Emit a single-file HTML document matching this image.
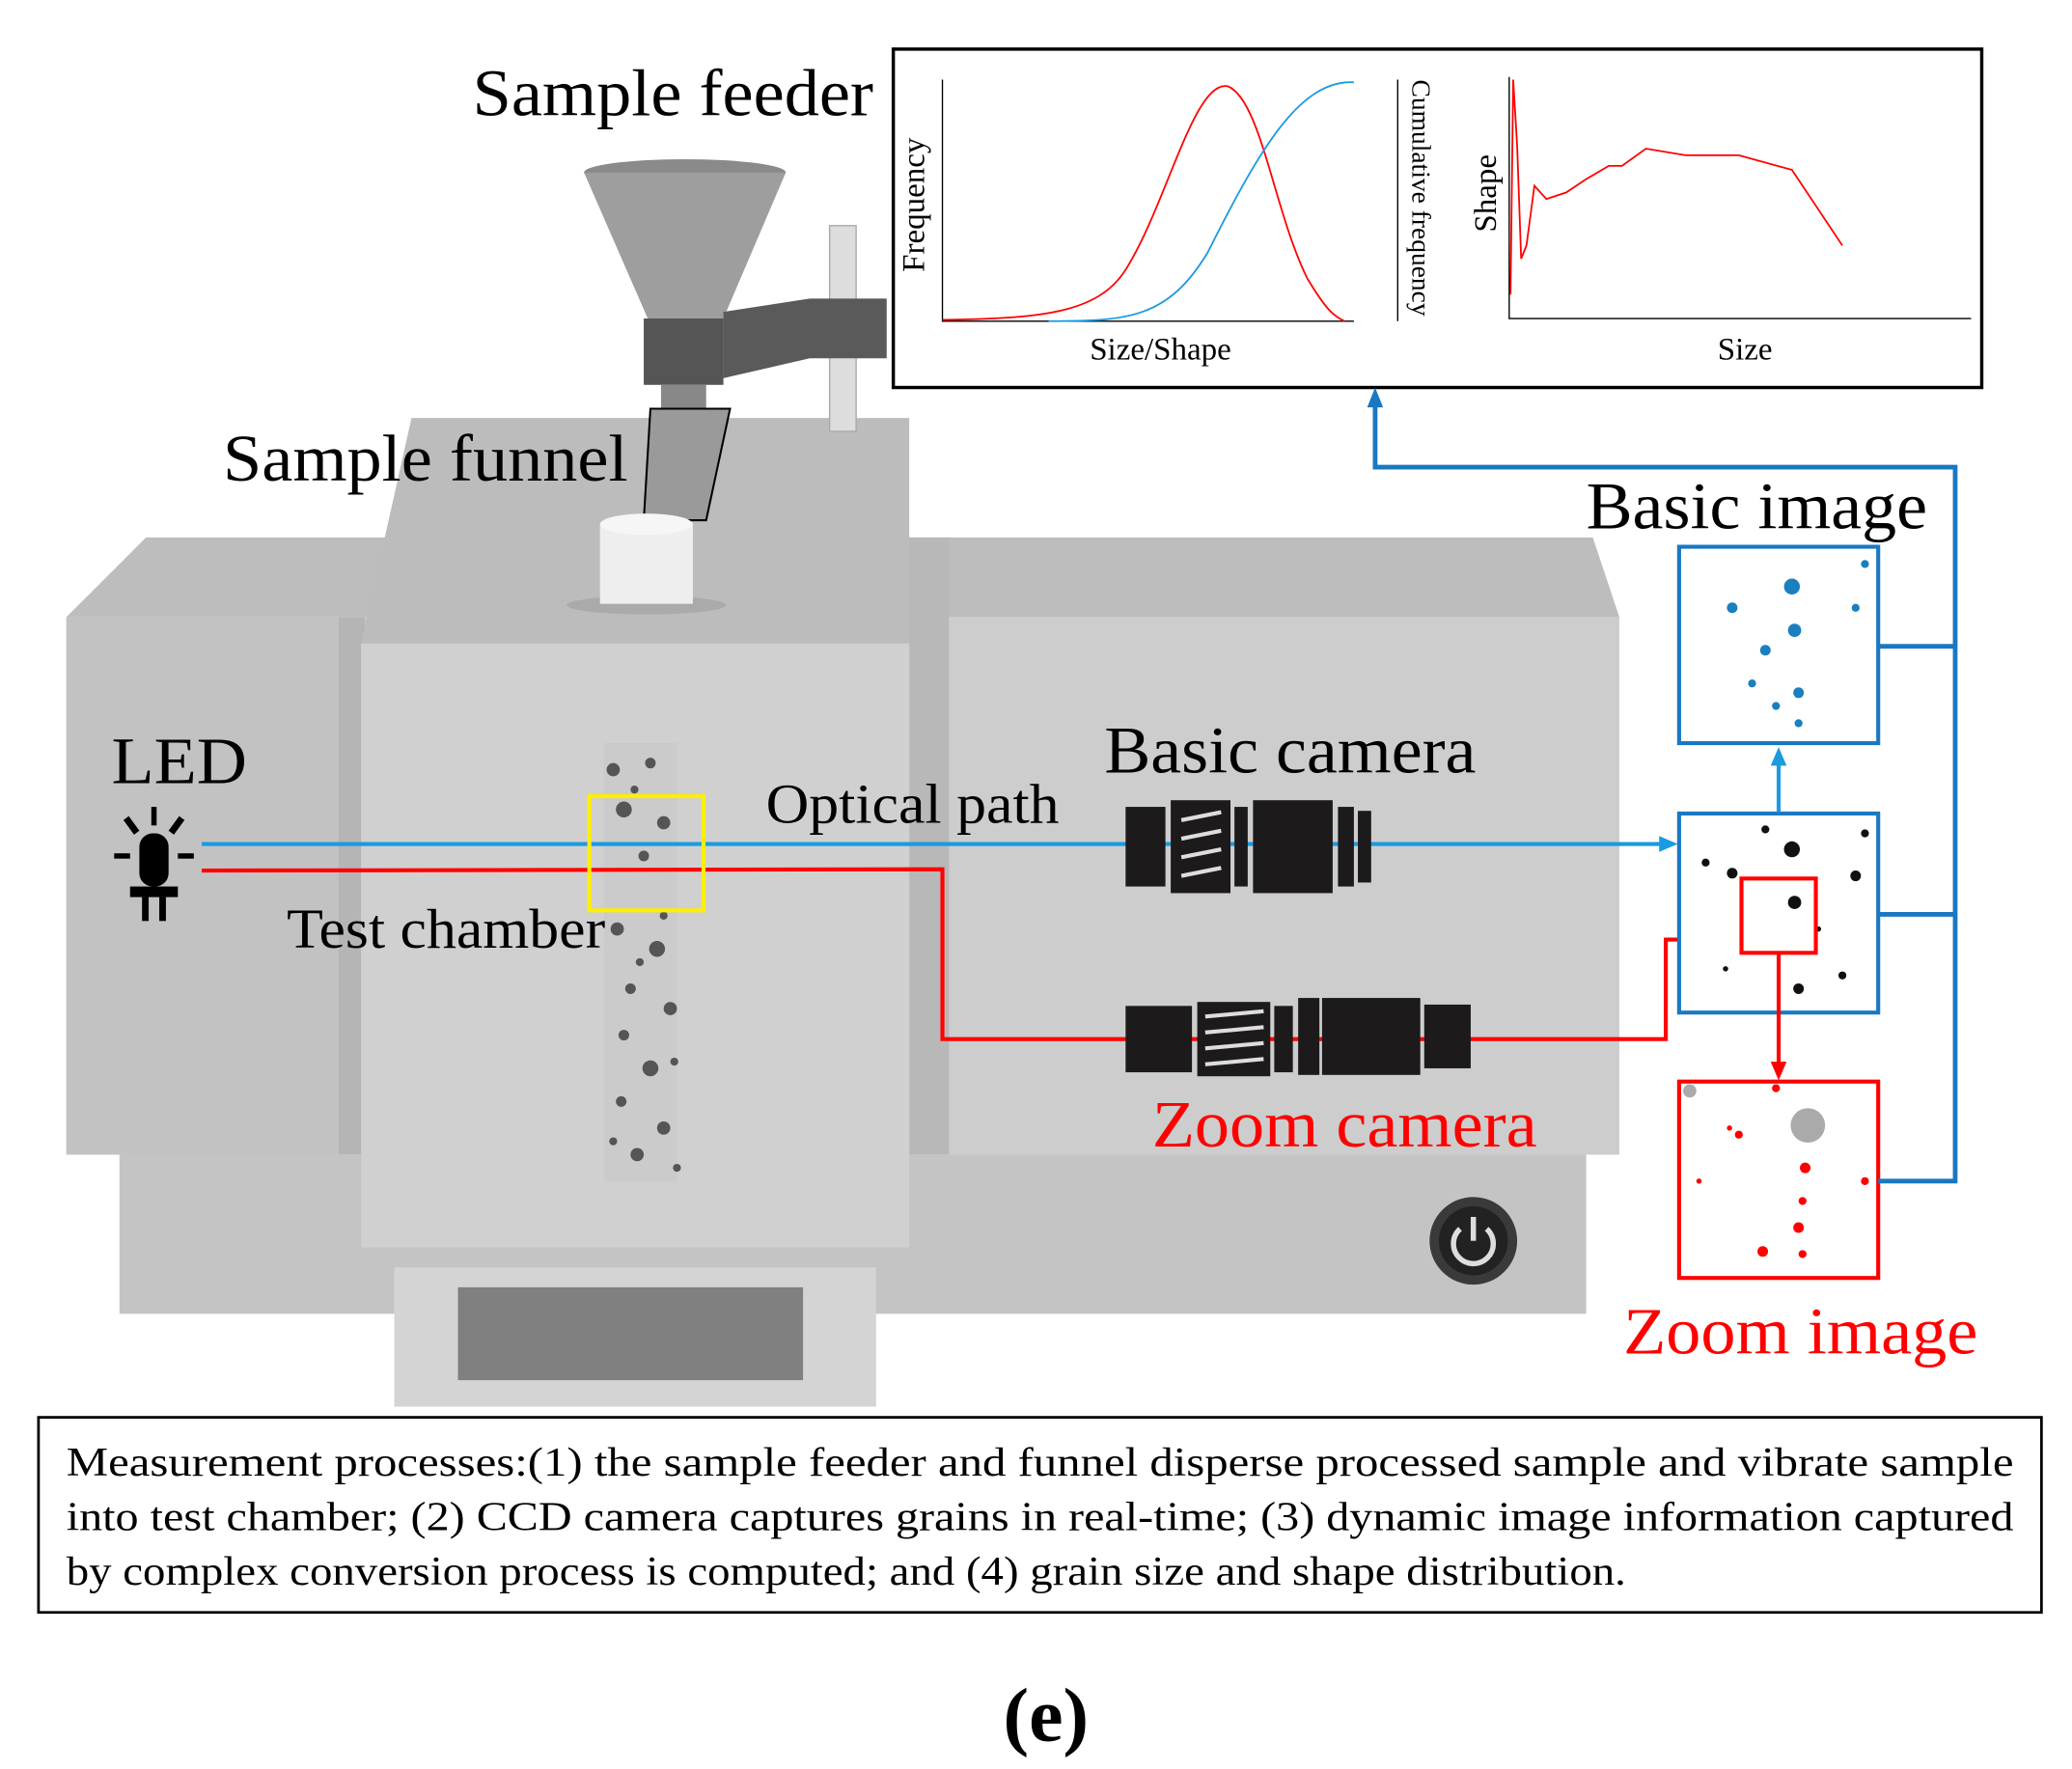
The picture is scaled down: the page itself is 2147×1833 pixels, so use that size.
<!DOCTYPE html>
<html><head><meta charset="utf-8"><style>
html,body{margin:0;padding:0;background:#fff;}
svg{display:block;}
text{font-family:"Liberation Serif",serif;}
</style></head><body>
<svg width="2147" height="1833" viewBox="0 0 1561 1333" preserveAspectRatio="none" xmlns="http://www.w3.org/2000/svg">
<rect width="1561" height="1333" fill="#fff"/>
<!-- machine -->
<polygon points="50,465 110,405 1200,405 1220,465" fill="#bdbdbd"/>
<rect x="50" y="465" width="1170" height="405" fill="#c9c9c9"/>
<rect x="50" y="465" width="205" height="405" fill="#c2c2c2"/>
<rect x="255" y="465" width="20" height="405" fill="#b5b5b5"/>
<rect x="685" y="405" width="30" height="465" fill="#b8b8b8"/>
<rect x="90" y="870" width="1105" height="120" fill="#c4c4c4"/>
<polygon points="310,315 685,315 685,485 272,485" fill="#bcbcbc"/>
<rect x="272" y="485" width="413" height="455" fill="#d0d0d0"/>
<rect x="715" y="465" width="505" height="405" fill="#cdcdcd"/>
<rect x="297" y="955" width="363" height="105" fill="#d4d4d4"/>
<rect x="345" y="970" width="260" height="70" fill="#808080"/>
<circle cx="1110" cy="935" r="33" fill="#3a3a3a"/>
<circle cx="1110" cy="935" r="26" fill="#222"/>
<path d="M1100,926 A15,15 0 1,0 1120,926" fill="none" stroke="#ddd" stroke-width="4"/>
<line x1="1110" y1="917" x2="1110" y2="935" stroke="#ddd" stroke-width="4"/>
<!-- feeder -->
<rect x="625" y="170" width="20" height="155" fill="#ddd" stroke="#aaa"/>
<ellipse cx="516" cy="130" rx="76" ry="10" fill="#8a8a8a"/>
<polygon points="440,130 592,130 545,240 488,240" fill="#9e9e9e"/>
<rect x="485" y="240" width="60" height="50" fill="#555"/>
<polygon points="545,235 610,225 668,225 668,270 610,270 545,285" fill="#5a5a5a"/>
<rect x="498" y="290" width="34" height="30" fill="#888"/>
<polygon points="490,308 550,308 532,392 485,392" fill="#9a9a9a" stroke="#000" stroke-width="1.5"/>
<ellipse cx="487" cy="456" rx="60" ry="7" fill="#aaa"/>
<rect x="452" y="395" width="70" height="60" fill="#eee"/>
<ellipse cx="487" cy="395" rx="35" ry="8" fill="#f6f6f6"/>
<!-- particles column -->
<g fill="#555">
<rect x="455" y="560" width="55" height="330" fill="#c6c6c6" opacity="0.5"/>
<circle cx="462" cy="580" r="5"/><circle cx="490" cy="575" r="4"/><circle cx="470" cy="610" r="6"/><circle cx="500" cy="620" r="5"/><circle cx="485" cy="645" r="4"/><circle cx="465" cy="700" r="5"/><circle cx="495" cy="715" r="6"/><circle cx="475" cy="745" r="4"/><circle cx="505" cy="760" r="5"/><circle cx="470" cy="780" r="4"/><circle cx="490" cy="805" r="6"/><circle cx="468" cy="830" r="4"/><circle cx="500" cy="850" r="5"/><circle cx="480" cy="870" r="5"/><circle cx="510" cy="880" r="3"/><circle cx="462" cy="860" r="3"/><circle cx="500" cy="690" r="3"/><circle cx="482" cy="725" r="3"/><circle cx="508" cy="800" r="3"/><circle cx="478" cy="595" r="3"/>
</g>
<!-- chart -->
<rect x="673" y="37" width="820" height="255" fill="#fff" stroke="#000" stroke-width="2.5"/>
<polyline points="710,60 710,242 1020,242" fill="none" stroke="#000"/>
<line x1="1053" y1="60" x2="1053" y2="242" stroke="#000"/>
<path d="M710,241 C790,240 830,235 850,200 C880,150 900,60 925,65 C950,75 960,160 985,210 C1000,235 1005,238 1013,242" fill="none" stroke="red" stroke-width="1.3"/>
<path d="M790,242 C850,242 880,240 910,190 C950,110 980,60 1020,62" fill="none" stroke="#1a9ae0" stroke-width="1.3"/>
<polyline points="1137,58 1137,240 1485,240" fill="none" stroke="#000"/>
<polyline points="1138,222 1140,60 1143,110 1146,195 1150,185 1156,140 1165,150 1180,145 1195,135 1212,125 1222,125 1240,112 1270,117 1310,117 1350,128 1388,185" fill="none" stroke="red" stroke-width="1.3"/>
<text x="821" y="271" font-size="24">Size/Shape</text>
<text x="1294" y="271" font-size="24">Size</text>
<text transform="translate(696,205) rotate(-90)" font-size="24">Frequency</text>
<text transform="translate(1064,60) rotate(90)" font-size="20">Cumulative frequency</text>
<text transform="translate(1127,175) rotate(-90)" font-size="24">Shape</text>
<!-- labels -->
<text x="356" y="87" font-size="50" textLength="302" lengthAdjust="spacingAndGlyphs">Sample feeder</text>
<text x="168" y="362" font-size="50" textLength="305" lengthAdjust="spacingAndGlyphs">Sample funnel</text>
<text x="84" y="590" font-size="50" textLength="102" lengthAdjust="spacingAndGlyphs">LED</text>
<text x="577" y="620" font-size="42" textLength="221" lengthAdjust="spacingAndGlyphs">Optical path</text>
<text x="216" y="714" font-size="42" textLength="240" lengthAdjust="spacingAndGlyphs">Test chamber</text>
<text x="832" y="582" font-size="50" textLength="280" lengthAdjust="spacingAndGlyphs">Basic camera</text>
<text x="868" y="864" font-size="50" fill="red" textLength="290" lengthAdjust="spacingAndGlyphs">Zoom camera</text>
<text x="1195" y="398" font-size="50" textLength="257" lengthAdjust="spacingAndGlyphs">Basic image</text>
<text x="1223" y="1020" font-size="50" fill="red" textLength="267" lengthAdjust="spacingAndGlyphs">Zoom image</text>
<!-- LED icon -->
<g fill="#000">
<rect x="105" y="628" width="22" height="40" rx="10"/>
<rect x="98" y="668" width="36" height="8"/>
<rect x="107" y="676" width="5" height="18"/><rect x="120" y="676" width="5" height="18"/>
<rect x="114" y="608" width="4" height="14"/>
<rect x="86" y="643" width="12" height="4"/><rect x="134" y="643" width="12" height="4"/>
<polygon points="93,618 97,615 105,626 101,629"/><polygon points="139,618 135,615 127,626 131,629"/>
</g>
<!-- beams -->
<line x1="152" y1="636" x2="1252" y2="636" stroke="#1a9ae0" stroke-width="3"/>
<polygon points="1264,636 1250,630 1250,642" fill="#1a9ae0"/>
<polyline points="152,656 710,655 710,783 1255,783 1255,708 1292,708" fill="none" stroke="red" stroke-width="3"/>
<polygon points="1304,708 1290,702 1290,714" fill="red"/>
<rect x="444" y="600" width="86" height="86" fill="none" stroke="#ffef00" stroke-width="3"/>
<!-- cameras -->
<g fill="#1c1a1a">
<rect x="848" y="608" width="30" height="60"/><rect x="882" y="603" width="45" height="70"/><rect x="930" y="608" width="10" height="60"/><rect x="944" y="603" width="60" height="70"/><rect x="1008" y="608" width="12" height="60"/><rect x="1023" y="611" width="10" height="54"/>
<rect x="848" y="758" width="50" height="50"/><rect x="902" y="755" width="55" height="56"/><rect x="960" y="758" width="14" height="50"/><rect x="978" y="752" width="16" height="58"/><rect x="996" y="752" width="74" height="58"/><rect x="1073" y="757" width="35" height="48"/>
</g>
<g stroke="#ddd" stroke-width="3">
<line x1="890" y1="618" x2="920" y2="612"/><line x1="890" y1="632" x2="920" y2="626"/><line x1="890" y1="646" x2="920" y2="640"/><line x1="890" y1="660" x2="920" y2="654"/>
<line x1="908" y1="766" x2="952" y2="762"/><line x1="908" y1="778" x2="952" y2="774"/><line x1="908" y1="790" x2="952" y2="786"/><line x1="908" y1="802" x2="952" y2="798"/>
</g>
<!-- images -->
<rect x="1265" y="412" width="150" height="148" fill="#fff" stroke="#1a78c2" stroke-width="3"/>
<g fill="#1a7fc0"><circle cx="1350" cy="442" r="6"/><circle cx="1305" cy="458" r="4"/><circle cx="1330" cy="490" r="4"/><circle cx="1352" cy="475" r="5"/><circle cx="1320" cy="515" r="3"/><circle cx="1355" cy="522" r="4"/><circle cx="1398" cy="458" r="3"/><circle cx="1338" cy="532" r="3"/><circle cx="1405" cy="425" r="3"/><circle cx="1355" cy="545" r="3"/></g>
<rect x="1265" y="613" width="150" height="150" fill="#fff" stroke="#1a78c2" stroke-width="3"/>
<g fill="#111"><circle cx="1350" cy="640" r="6"/><circle cx="1305" cy="658" r="4"/><circle cx="1352" cy="680" r="5"/><circle cx="1398" cy="660" r="4"/><circle cx="1330" cy="625" r="3"/><circle cx="1405" cy="628" r="3"/><circle cx="1285" cy="650" r="3"/><circle cx="1388" cy="735" r="3"/><circle cx="1355" cy="745" r="4"/><circle cx="1300" cy="730" r="2"/><circle cx="1370" cy="700" r="2"/></g>
<rect x="1312" y="662" width="56" height="56" fill="none" stroke="red" stroke-width="3"/>
<rect x="1265" y="815" width="150" height="148" fill="#fff" stroke="red" stroke-width="3"/>
<circle cx="1362" cy="848" r="13" fill="#aaa"/><circle cx="1273" cy="822" r="5" fill="#aaa"/>
<g fill="red"><circle cx="1338" cy="820" r="3"/><circle cx="1360" cy="880" r="4"/><circle cx="1358" cy="905" r="3"/><circle cx="1355" cy="925" r="4"/><circle cx="1310" cy="855" r="3"/><circle cx="1280" cy="890" r="2"/><circle cx="1328" cy="943" r="4"/><circle cx="1358" cy="945" r="3"/><circle cx="1405" cy="890" r="3"/><circle cx="1303" cy="850" r="2"/></g>
<!-- connectors -->
<line x1="1340" y1="612" x2="1340" y2="575" stroke="#1a9ae0" stroke-width="3"/>
<polygon points="1340,563 1334,577 1346,577" fill="#1a9ae0"/>
<line x1="1340" y1="718" x2="1340" y2="802" stroke="red" stroke-width="3"/>
<polygon points="1340,814 1334,800 1346,800" fill="red"/>
<path d="M1415,487 L1473,487 M1415,689 L1473,689 M1415,890 L1473,890 L1473,352 L1036,352 L1036,305" fill="none" stroke="#1a78c2" stroke-width="3.5"/>
<polygon points="1036,292 1030,307 1042,307" fill="#1a78c2"/>
<!-- text box -->
<rect x="29" y="1068" width="1509" height="147" fill="#fff" stroke="#000" stroke-width="2"/>
<text x="50" y="1112" font-size="31" textLength="1467" lengthAdjust="spacingAndGlyphs">Measurement processes:(1) the sample feeder and funnel disperse processed sample and vibrate sample</text>
<text x="50" y="1153" font-size="31" textLength="1467" lengthAdjust="spacingAndGlyphs">into test chamber; (2) CCD camera captures grains in real-time; (3) dynamic image information captured</text>
<text x="50" y="1194" font-size="31" textLength="1175" lengthAdjust="spacingAndGlyphs">by complex conversion process is computed; and (4) grain size and shape distribution.</text>
<text x="788" y="1312" font-size="58" font-weight="bold" text-anchor="middle">(e)</text>
</svg>
</body></html>
